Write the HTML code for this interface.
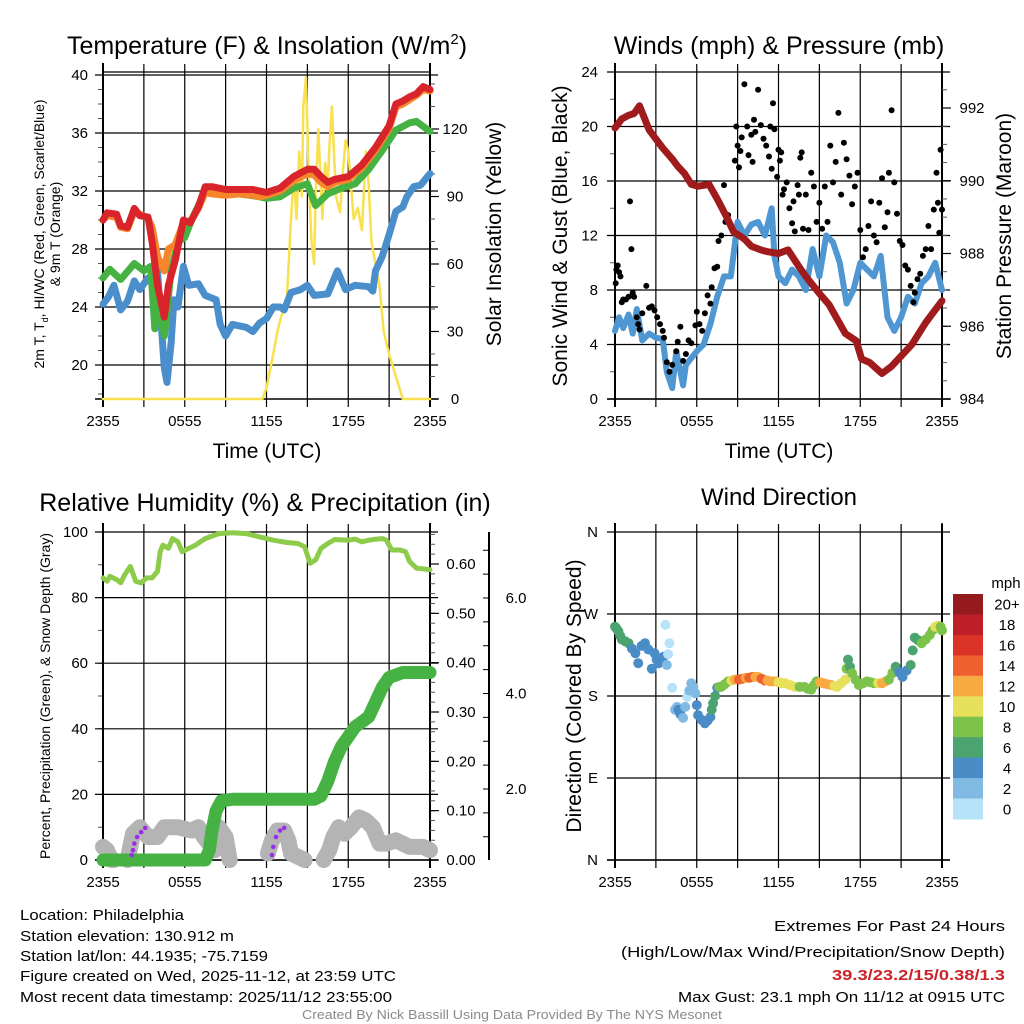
<!DOCTYPE html>
<html><head><meta charset="utf-8"><title>Station Meteogram</title>
<style>
html,body{margin:0;padding:0;background:#fff;}
svg{display:block;font-family:"Liberation Sans",Arial,sans-serif;}
</style></head>
<body>
<svg id="chart" width="1024" height="1024" viewBox="0 0 1024 1024" xmlns="http://www.w3.org/2000/svg">
<g id="p1"></g>
<g id="p2"></g>
<g id="p3"></g>
<g id="p4"></g>
<g id="foot" font-size="14.5" fill="#000">
<text x="20" y="920" textLength="164" lengthAdjust="spacingAndGlyphs">Location: Philadelphia</text>
<text x="20" y="941" textLength="214" lengthAdjust="spacingAndGlyphs">Station elevation: 130.912 m</text>
<text x="20" y="961" textLength="248" lengthAdjust="spacingAndGlyphs">Station lat/lon: 44.1935; -75.7159</text>
<text x="20" y="981" textLength="376" lengthAdjust="spacingAndGlyphs">Figure created on Wed, 2025-11-12, at 23:59 UTC</text>
<text x="20" y="1002" textLength="372" lengthAdjust="spacingAndGlyphs">Most recent data timestamp: 2025/11/12 23:55:00</text>
<text x="1005" y="931" text-anchor="end" textLength="231" lengthAdjust="spacingAndGlyphs">Extremes For Past 24 Hours</text>
<text x="1005" y="957" text-anchor="end" textLength="384" lengthAdjust="spacingAndGlyphs">(High/Low/Max Wind/Precipitation/Snow Depth)</text>
<text x="1005" y="980" text-anchor="end" fill="#cc2229" font-weight="bold" textLength="173" lengthAdjust="spacingAndGlyphs">39.3/23.2/15/0.38/1.3</text>
<text x="1005" y="1002" text-anchor="end" textLength="327" lengthAdjust="spacingAndGlyphs">Max Gust: 23.1 mph On 11/12 at 0915 UTC</text>
<text x="512" y="1019" text-anchor="middle" fill="#8a8a8a" font-size="12.5" textLength="420" lengthAdjust="spacingAndGlyphs">Created By Nick Bassill Using Data Provided By The NYS Mesonet</text>
</g>
</svg>
<script>
// ---- Data (hours since 2355 UTC) ----
const xTickLabels = ["2355","","0555","","1155","","1755","","2355"];
const tempT   = [0,0.3,1,1.3,1.8,2.3,2.7,3.3,3.6,4,4.5,4.8,5.3,5.9,6.4,7,7.5,8,9,10,11,11.5,12,13,14,15,15.5,16,16.5,17,18,19,20,21,21.5,22,22.5,23,23.5,24];
const tempRed = [30.0,30.5,30.4,29.6,29.5,30.8,30.3,30.2,28.5,25.5,23.3,25.5,27.2,30.0,29.8,30.9,32.3,32.3,32.1,32.1,32.1,32.0,31.9,32.2,33.0,33.5,33.5,33.0,32.6,32.8,33.0,33.8,35.0,36.5,38.0,38.2,38.5,38.7,39.2,39.0];
const tempOrange = [30.0,30.3,30.2,29.5,29.4,30.6,30.4,30.1,29.5,27.5,26.5,28.0,28.3,29.8,29.9,30.8,31.9,31.8,31.7,31.8,31.7,31.6,31.7,32.0,32.7,33.2,33.1,32.6,32.3,32.6,32.8,33.6,34.8,36.3,37.8,38.0,38.3,38.6,39.0,38.9];
const greenT  = [0,0.5,1.3,2.3,3,3.5,3.8,4.1,4.5,5,5.5,6,6.5,7.5,8,10,11.5,12,13,14,15,15.6,16.5,17.5,18.5,19.5,20.5,21.5,22.5,23,24];
const tempGreen = [26.0,26.6,25.9,27.0,26.5,26.8,22.5,24.9,22.0,26.5,28.5,28.8,30.0,32.0,32.0,31.8,31.6,31.5,31.6,32.2,32.5,31.0,31.8,32.2,32.5,33.5,34.8,36.2,36.7,36.8,36.1];
const blueT   = [0,0.4,0.8,1.3,1.8,2.3,2.7,3.3,3.7,4,4.5,4.7,5,5.2,5.5,5.9,6.3,7,7.5,8.3,8.6,9,9.5,10.5,11,11.5,12,12.5,13,13.3,13.8,14.5,15,15.5,16.5,17.2,17.8,18.5,19.5,19.8,20,20.5,21,21.5,22,22.3,22.8,23.3,24];
const tempBlue = [24.2,24.7,25.5,23.8,24.4,25.8,25.2,26.0,25.5,26.5,19.8,18.8,21.5,24.5,24.0,26.8,25.5,25.6,24.8,24.5,22.8,22.0,22.8,22.6,22.3,22.9,23.2,24.0,24.0,23.8,25.0,25.2,25.5,24.8,24.9,26.5,25.2,25.5,25.4,25.1,26.5,27.5,29.0,30.6,30.9,31.6,32.3,32.4,33.2];
const solT    = [0,11.7,12,12.5,12.8,13,13.5,13.8,14,14.2,14.4,14.6,14.7,14.9,15.1,15.3,15.5,15.6,15.8,16.1,16.3,16.5,16.6,16.8,17.1,17.4,17.6,17.8,18,18.2,18.4,18.7,19,19.3,19.5,19.7,20,20.3,20.6,21,21.5,22,24];
const solar   = [0,0,5,20,30,35,45,80,100,80,110,90,130,143,100,70,60,90,120,80,105,95,110,130,90,83,100,115,110,95,80,85,75,110,95,70,60,50,30,20,10,0,0];
const sonicT  = [0,0.3,0.6,1,1.3,1.6,2,2.5,3,3.5,3.8,4.2,4.5,5,5.2,5.6,6,6.5,7,7.5,8,8.5,9,9.5,10,10.5,11,11.5,11.7,12,12.5,13,13.5,14,14.5,15,15.5,16,16.5,17,17.5,18,18.5,19,19.5,20,20.5,21,21.5,22,22.5,23,23.5,24];
const sonic   = [5.0,6.0,5.2,6.2,4.8,6.6,4.3,4.8,4.5,4.4,2.0,0.8,3.5,1.0,2.5,3.0,3.5,4.0,5.5,7.5,9.0,9.0,13.0,12.0,12.8,13.0,12.0,14.0,10.5,9.0,8.5,9.5,9.0,8.0,11.0,9.0,12.0,11.5,10.0,7.0,8.0,10.0,9.5,9.0,10.5,6.0,5.0,6.0,7.5,7.0,8.5,9.0,10.0,8.0];
const gustT   = [0.05,0.1,0.2,0.3,0.4,0.5,0.6,0.8,1,1.1,1.2,1.3,1.4,1.6,1.7,1.8,2,2.3,2.5,2.7,2.9,3.1,3.3,3.5,3.6,3.8,4,4.2,4.5,4.6,4.8,5,5.2,5.4,5.6,5.9,6,6.2,6.4,6.6,6.8,7,7.1,7.3,7.5,7.6,7.8,8,8.1,8.3,8.5,8.8,8.9,9,9.1,9.2,9.3,9.5,9.7,9.8,10,10.1,10.2,10.3,10.5,10.7,10.9,11.1,11.3,11.4,11.5,11.6,11.7,11.9,12,12.1,12.2,12.3,12.4,12.6,12.8,13,13.1,13.2,13.4,13.5,13.6,13.7,13.8,14,14.2,14.4,14.6,14.8,15,15.2,15.4,15.6,15.8,16,16.2,16.4,16.6,16.8,17,17.2,17.4,17.6,17.8,18,18.2,18.4,18.6,18.8,19,19.2,19.4,19.6,19.8,20,20.1,20.3,20.5,20.7,20.9,21.1,21.3,21.5,21.7,21.9,22,22.2,22.4,22.6,22.8,23,23.2,23.4,23.6,23.7,23.8,23.9,24];
const gust    = [8.5,9.5,9.8,9.3,9.0,7.1,7.3,7.3,7.5,14.5,11.0,7.8,7.5,6.0,5.5,5.1,6.3,8.3,6.7,6.8,6.5,6.0,5.5,5.0,4.5,2.7,2.0,2.5,3.5,4.2,5.3,2.8,3.3,4.3,4.1,5.4,6.4,5.5,5.0,6.3,7.6,7.0,8.2,9.6,9.7,11.6,12.0,15.7,13.0,13.5,12.8,17.5,20.0,18.6,17.0,18.2,19.2,23.1,20.0,17.9,19.4,17.4,20.5,19.6,22.7,20.1,19.1,18.6,17.8,20.0,16.9,21.7,19.8,16.3,18.3,17.5,18.1,15.0,15.4,15.9,14.0,12.9,14.5,12.3,15.7,15.0,17.7,18.1,12.5,15.0,12.4,16.6,15.6,13.0,14.4,12.5,15.6,13.0,18.6,15.9,17.4,21.0,15.0,18.8,17.6,16.4,14.3,15.6,16.6,12.4,10.4,11.0,12.7,14.5,12.0,11.5,14.4,16.2,12.6,13.7,16.6,21.2,15.9,13.6,11.6,11.3,9.8,9.5,8.3,7.1,7.8,8.8,9.2,10.5,11.0,12.7,11.0,13.9,16.6,14.4,12.2,18.3,13.9];
const presT   = [0,0.5,1.0,1.4,1.8,2.5,2.9,3.5,4.2,4.6,5.1,5.6,6.1,6.9,7.5,8.2,8.7,9.5,10,10.7,11.2,12,12.7,13.5,14,15,15.7,16.9,17.7,18.1,18.7,19.6,20.3,20.8,21.8,22.8,24];
const pressure= [991.45,991.7,991.8,991.85,992.06,991.4,991.2,990.9,990.6,990.4,990.2,989.9,989.85,989.9,989.5,989.0,988.6,988.4,988.2,988.1,988.05,988.0,988.1,987.64,987.37,986.9,986.6,985.8,985.6,985.1,985.0,984.7,984.9,985.1,985.5,986.1,986.7];
const rhT     = [0,0.3,0.5,1,1.3,1.6,2,2.4,2.8,3.2,3.6,4,4.2,4.4,4.8,5.1,5.5,5.8,6.3,6.8,7.5,8.5,9.5,10.5,11.5,12.5,13.5,14.3,14.8,15.2,15.6,16,16.5,17,18,18.5,19,19.5,20,20.5,20.8,21.2,21.8,22.2,22.5,23,24];
const rh      = [86,85,86.5,85.5,84.5,87,89.5,85,84.5,86,86,88,94,96,95,98,97,94,95,96,98,99.5,99.8,99.5,98.5,97.5,96.8,96.5,95.5,90.5,91.5,95,96.5,97.7,97.5,97.8,97,97.5,97.8,98,97.5,94.5,94.5,94,91,89,88.5];
const precipT = [0,7.5,7.8,8,8.3,8.7,9.5,15.5,16,16.5,17,17.5,18,18.5,19,19.5,20,20.5,21,21.5,22,24];
const precip  = [0,0,0.02,0.06,0.10,0.12,0.123,0.123,0.13,0.16,0.20,0.23,0.25,0.27,0.28,0.29,0.32,0.35,0.37,0.375,0.38,0.38];
const snowSegT = [[0,0.3,0.6,0.8],[1.8,2.2,2.7,3.3,4,4.5,5,5.5,6.5,7,7.4,7.8,8.2,8.5,9,9.3],[12.1,12.4,12.8,13.3,13.6,13.8,14.3,14.8],[16.2,16.6,16.9,17.3,17.7,18.2,18.8,19.3,19.8,20.3,20.8,21.5,22,22.5,23.5,24]];
const snowSegV = [[4,3,0,0],[0,8,10,7,7,10,10,10,9,10,7,5,3,10,7,0],[2,6,9,9,6,2,1,0],[0,3,7,10,8,10,13,12,10,5,5,6,5,4,4,3]];
const purpleT = [2.1,2.2,2.3,2.5,2.8,3.1,12.4,12.5,12.7,13.0,13.3];
const purpleV = [1.5,3,5,7,8.5,9.8,1.5,4,7,9,9.8];
const dirT    = [0,0.12,0.25,0.38,0.5,0.75,1,1.25,1.5,1.7,1.95,2.2,2.45,2.7,2.9,3.05,3.2,3.4,3.55,3.7,3.8,3.9,4.0,4.2,4.4,4.55,4.65,4.8,5.0,5.15,5.3,5.45,5.6,5.75,5.9,6.0,6.1,6.35,6.6,6.8,7,7.1,7.2,7.35,7.5,7.65,7.8,8.05,8.3,8.55,8.8,9.1,9.35,9.6,9.85,10.1,10.3,10.5,10.75,11,11.2,11.4,11.6,11.8,12.0,12.25,12.5,12.85,13.2,13.55,13.9,14.15,14.4,14.6,14.8,15.05,15.3,15.6,15.9,16.1,16.3,16.6,16.9,17.0,17.1,17.25,17.4,17.65,17.9,18.2,18.5,18.75,19,19.3,19.6,19.85,20.1,20.35,20.6,20.85,21.1,21.4,21.7,21.85,22,22.25,22.5,22.8,23.1,23.3,23.5,23.7,23.9,24];
const dirDeg  = [256,254,251,246,242,240,238,232,227,216,235,238,231,210,227,220,216,220,223,258,214,226,238,189,165,168,165,160,156,168,179,186,194,190,183,170,159,154,150,153,157,165,172,180,189,190,190,193,196,197,198,198,199,200,200,201,201,201,199,197,197,196,196,196,195,194,194,192,190,190,190,188,187,192,196,195,194,193,192,191,190,194,198,210,220,212,205,198,192,194,196,195,194,194,194,196,198,205,212,206,201,208,214,230,244,241,238,242,247,252,256,257,256,252,247];
const dirSpd  = [6,6,6,6,6,6,6,4,4,4,4,4,4,4,4,4,4,4,4,0,2,0,0,0,2,2,4,4,2,2,0,2,2,2,2,4,4,4,4,4,4,6,6,6,4,8,8,8,8,10,12,14,14,12,14,14,12,12,14,14,12,12,12,12,10,10,10,10,10,8,8,8,8,8,8,12,12,12,12,10,10,10,10,8,6,6,8,8,8,8,8,8,8,10,12,12,8,8,6,4,4,4,6,6,6,6,8,8,8,8,10,10,8,8,8];
const cbLabels = ["20+","18","16","14","12","10","8","6","4","2","0"];
const cbColors = ["#941a1d","#bd1e27","#db3328","#ef6130","#f7a942","#e6e05a","#7cc24b","#4ba470","#4a8cc6","#80bae3","#b6e3f8"];

const NS="http://www.w3.org/2000/svg";
function mk(parent,tag,attrs){const e=document.createElementNS(NS,tag);for(const k in attrs)e.setAttribute(k,attrs[k]);parent.appendChild(e);return e;}
function linX(x0,x1){return t=>x0+t/24*(x1-x0);}
function linY(v0,y0,v1,y1){return v=>y0+(v-v0)*(y1-y0)/(v1-v0);}
function pathD(ts,vs,sx,sy){return ts.map((t,i)=>(i?"L":"M")+sx(ts[i]).toFixed(1)+","+sy(vs[i]).toFixed(1)).join("");}
function spdColor(s){let i=Math.min(10,Math.floor(s/2));return cbColors[10-i];}

function frame(g,x0,x1,y0,y1,sx){
  for(let k=0;k<=8;k++){
    const x=sx(k*3);
    const l=mk(g,"line",{x1:x,x2:x,y1:y0-8,y2:y1+8,stroke:"#000","stroke-width":(k==0||k==8)?2:1.2});
    
    
    if(xTickLabels[k]){
      const t=mk(g,"text",{x:x,y:y1+27,"text-anchor":"middle","font-size":15});
      
      
      t.textContent=xTickLabels[k];
    }
  }
  const b=mk(g,"line",{x1:x0-8,x2:x1+8,y1:y1,y2:y1,stroke:"#000","stroke-width":1.5});
  
  
}
function yAxisL(g,x0,x1,sy,ticks,minors,fmt,labelX){
  for(const v of minors){const y=sy(v);const l=mk(g,"line",{x1:x0-5,x2:x0,y1:y,y2:y,stroke:"#555","stroke-width":1});
    
    }
  for(const v of ticks){const y=sy(v);
    const l=mk(g,"line",{x1:x0-8,x2:x1+8,y1:y,y2:y,stroke:"#000","stroke-width":1.2});
    
    
    const t=mk(g,"text",{x:labelX,y:y+5,"text-anchor":"end","font-size":15});
    
    
    t.textContent=fmt(v);}
}
function yAxisR(g,x,sy,ticks,minors,fmt,labelX){
  for(const v of minors){const y=sy(v);const l=mk(g,"line",{x1:x,x2:x+5,y1:y,y2:y,stroke:"#555","stroke-width":1});
    
    }
  for(const v of ticks){const y=sy(v);const l=mk(g,"line",{x1:x,x2:x+9,y1:y,y2:y,stroke:"#000","stroke-width":1.2});
    
    
    const t=mk(g,"text",{x:labelX,y:y+5,"text-anchor":"middle","font-size":15});
    
    
    t.textContent=fmt(v);}
}
function rng(a,b,s){const r=[];for(let v=a;v<=b+1e-9;v+=s)r.push(+v.toFixed(4));return r;}
function vline(g,x,y0,y1,w,name){const l=mk(g,"line",{x1:x,x2:x,y1:y0,y2:y1,stroke:"#000","stroke-width":w});
  
  }
function title(g,x,y,s,name,size){const t=mk(g,"text",{x:x,y:y,"text-anchor":"middle","font-size":size||25});
  
  
  t.textContent=s;return t;}
function line(g,ts,vs,sx,sy,color,w,name){const p=mk(g,"path",{d:pathD(ts,vs,sx,sy),fill:"none",stroke:color,"stroke-width":w,"stroke-linejoin":"round","stroke-linecap":"round"});
  
  return p;}
function rotText(g,x,y,s,size,name){const t=mk(g,"text",{x:0,y:0,"text-anchor":"middle","font-size":size,transform:`translate(${x},${y}) rotate(-90)`});
  
  
  t.textContent=s;return t;}

// ---- Panel 1: Temperature ----
(function(){
  const g=document.getElementById('p1');
  const x0=103,x1=430,y0=72,y1=399;
  const sx=linX(x0,x1), sy=linY(40,75,20,365), sw=linY(0,399,120,129);
  const t=title(g,267,54,"Temperature (F) & Insolation (W/m","temp-title");
  const sup=mk(t,"tspan",{dy:-10,"font-size":15});sup.textContent="2";
  const cl=mk(t,"tspan",{dy:10});cl.textContent=")";
  yAxisL(g,x0,x1,sy,rng(20,40,4),rng(18,40,1),v=>v,88);
  const tl=mk(g,"line",{x1:x0,x2:x1,y1:y0,y2:y0,stroke:"#000","stroke-width":1.2});
  
  
  frame(g,x0,x1,y0,y1,sx);
  vline(g,x0,63,407,2,'left-axis-line');vline(g,x1,63,407,2,'right-axis-line');
  yAxisR(g,x1,sw,rng(0,120,30),rng(0,140,10),v=>v,455);
  line(g,solT,solar,sx,sw,"#f8e04e",2.5,'solar-insolation-line');
  line(g,blueT,tempBlue,sx,sy,"#4a8fcb",7,'dewpoint-line');
  line(g,greenT,tempGreen,sx,sy,"#47b244",7,'heat-index-line');
  line(g,tempT,tempOrange,sx,sy,"#f7862a",7,'nine-m-temp-line');
  line(g,tempT,tempRed,sx,sy,"#d8242a",7,'two-m-temp-line');
  const a=rotText(g,44,234,"2m T, T",14,'left-axis-title');
  const sub=mk(a,"tspan",{dy:4,"font-size":9});sub.textContent="d";
  const r=mk(a,"tspan",{dy:-4});r.textContent=", HI/WC (Red, Green, Scarlet/Blue)";
  rotText(g,60,234,"& 9m T (Orange)",14,'left-axis-title-2');
  rotText(g,501,234,"Solar Insolation (Yellow)",21,'right-axis-title');
  title(g,267,458,"Time (UTC)","x-axis-title",21);
})();

// ---- Panel 2: Winds ----
(function(){
  const g=document.getElementById('p2');
  const x0=615,x1=942,y0=72,y1=399;
  const sx=linX(x0,x1), sy=linY(0,399,24,72), sp=linY(984,399,992,108);
  title(g,779,54,"Winds (mph) & Pressure (mb)","winds-title");
  yAxisL(g,x0,x1,sy,rng(0,24,4),rng(0,24,2),v=>v,598);
  frame(g,x0,x1,y0,y1,sx);
  vline(g,x0,63,407,2,'left-axis-line');vline(g,x1,63,407,2,'right-axis-line');
  yAxisR(g,x1,sp,rng(984,992,2),rng(984,992.5,0.5),v=>v,972);
  line(g,sonicT,sonic,sx,sy,"#4f97d3",6,'sonic-wind-line');
  gustT.forEach((t,i)=>{const c=mk(g,"circle",{cx:sx(t).toFixed(1),cy:sy(gust[i]).toFixed(1),r:3,fill:"#000"});
    
    });
  line(g,presT,pressure,sx,sp,"#a01b1b",7,'pressure-line');
  rotText(g,567,236,"Sonic Wind & Gust (Blue, Black)",21,'left-axis-title');
  rotText(g,1011,236,"Station Pressure (Maroon)",21,'right-axis-title');
  title(g,779,458,"Time (UTC)","x-axis-title",21);
})();

// ---- Panel 3: RH & Precip ----
(function(){
  const g=document.getElementById('p3');
  const x0=103,x1=430,y0=532,y1=860;
  const sx=linX(x0,x1), sy=linY(0,860,100,532), spp=linY(0,860,0.6,564), ss=linY(2,789,6,598);
  title(g,265,511,"Relative Humidity (%) & Precipitation (in)","rh-title");
  yAxisL(g,x0,x1,sy,rng(0,100,20),rng(0,100,10),v=>v,88);
  frame(g,x0,x1,y0,y1,sx);
  vline(g,x0,523,868,2,'left-axis-line');vline(g,x1,523,868,2,'right-axis-line');
  yAxisR(g,x1,spp,rng(0,0.6,0.1),rng(0,0.66,0.02),v=>v.toFixed(2),461);
  vline(g,489,532,860,2,'snow-axis-line');
  for(const v of rng(0,7,0.5)){const y=ss(v);if(y<532||y>860)continue;
    const l=mk(g,"line",{x1:483,x2:489,y1:y,y2:y,stroke:"#000","stroke-width":1});
    
    }
  for(const v of [2,4,6]){const tt=mk(g,"text",{x:516,y:ss(v)+5,"text-anchor":"middle","font-size":15});
    
    
    tt.textContent=v.toFixed(1);}
  snowSegT.forEach((ts,k)=>line(g,ts,snowSegV[k],sx,sy,"#b4b4b4",16,'snow-depth-line'));
  line(g,precipT,precip,sx,spp,"#47b244",13,'precipitation-line');
  purpleT.forEach((t,i)=>{const c=mk(g,"circle",{cx:sx(t).toFixed(1),cy:sy(purpleV[i]).toFixed(1),r:2.3,fill:"#9a2ee8"});
    
    });
  line(g,rhT,rh,sx,sy,"#8dcc4a",5,'relative-humidity-line');
  rotText(g,50,696,"Percent, Precipitation (Green), & Snow Depth (Gray)",14,'left-axis-title');
})();

// ---- Panel 4: Wind Direction ----
(function(){
  const g=document.getElementById('p4');
  const x0=615,x1=942,y0=532,y1=860;
  const sx=linX(x0,x1), sy=linY(0,860,360,532);
  title(g,779,505,"Wind Direction","direction-title",24);
  yAxisL(g,x0,x1,sy,[0,90,180,270,360],[],v=>({0:"N",90:"E",180:"S",270:"W",360:"N"})[v],598);
  frame(g,x0,x1,y0,y1,sx);
  vline(g,x0,523,868,2,'left-axis-line');vline(g,x1,523,868,1.5,'right-axis-line');
  dirT.forEach((t,i)=>{const c=mk(g,"circle",{cx:sx(t).toFixed(1),cy:sy(dirDeg[i]).toFixed(1),r:5,fill:spdColor(dirSpd[i])});
    
    });
  rotText(g,581,696,"Direction (Colored By Speed)",21,'left-axis-title');
  const u=mk(g,"text",{x:1006,y:588,"text-anchor":"middle","font-size":15});
  
  
  u.textContent="mph";
  const h=(819-594)/cbColors.length;
  cbColors.forEach((c,i)=>{const r=mk(g,"rect",{x:953,y:(594+i*h).toFixed(1),width:30,height:(h+0.5).toFixed(1),fill:c});
    
    
    const t=mk(g,"text",{x:1007,y:(594+i*h+h/2+5.5).toFixed(1),"text-anchor":"middle","font-size":15});
    
    
    t.textContent=cbLabels[i];});
})();
</script>
</body></html>
